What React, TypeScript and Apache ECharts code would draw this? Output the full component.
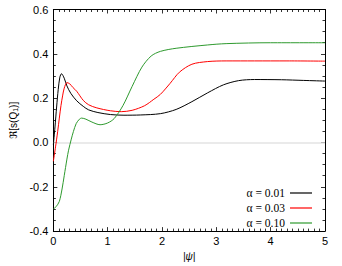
import React, { useEffect, useRef } from "react";
import * as echarts from "echarts";

const seriesNames = ["α = 0.01", "α = 0.03", "α = 0.10"];
const seriesColors = ["#000000", "#ff0000", "#2e9a2e"];

const blackX = [0, 0.03, 0.06, 0.09, 0.12, 0.15, 0.2, 0.25, 0.32, 0.43, 0.55, 0.65, 0.82, 1.05, 1.3, 1.6, 1.97, 2.26, 2.55, 2.84, 3.13, 3.41, 3.7, 4.2, 4.6, 5.0];
const blackY = [-0.01, 0.07, 0.16, 0.24, 0.295, 0.31, 0.29, 0.255, 0.222, 0.188, 0.163, 0.147, 0.135, 0.126, 0.123, 0.124, 0.13, 0.149, 0.184, 0.224, 0.26, 0.279, 0.284, 0.283, 0.28, 0.277];

const redX = [0, 0.04, 0.08, 0.11, 0.14, 0.17, 0.2, 0.25, 0.3, 0.36, 0.43, 0.55, 0.65, 0.8, 1.05, 1.25, 1.45, 1.68, 1.85, 1.97, 2.15, 2.32, 2.55, 2.84, 3.18, 3.7, 4.3, 5.0];
const redY = [-0.085, -0.02, 0.05, 0.11, 0.166, 0.21, 0.245, 0.27, 0.265, 0.248, 0.231, 0.19, 0.17, 0.156, 0.143, 0.139, 0.145, 0.166, 0.195, 0.217, 0.267, 0.317, 0.353, 0.365, 0.368, 0.368, 0.368, 0.367];

const greenX = [0, 0.05, 0.11, 0.16, 0.2, 0.25, 0.28, 0.33, 0.37, 0.42, 0.48, 0.52, 0.6, 0.71, 0.86, 1.0, 1.12, 1.28, 1.45, 1.63, 1.8, 1.97, 2.26, 2.84, 3.18, 4.0, 5.0];
const greenY = [-0.3, -0.29, -0.266, -0.21, -0.15, -0.075, -0.035, 0.015, 0.05, 0.085, 0.105, 0.11, 0.105, 0.092, 0.08, 0.088, 0.108, 0.166, 0.253, 0.34, 0.39, 0.411, 0.425, 0.44, 0.446, 0.45, 0.45];

const xTicks = { min: 0, max: 5, interval: 1 };
const yTicks = { min: -0.4, max: 0.6, interval: 0.2 };

const pairs = (xs: number[], ys: number[]) => xs.map((x, i) => [x, ys[i]]);

export default function App() {
  const ref = useRef<HTMLDivElement>(null);
  useEffect(() => {
    if (!ref.current) return;
    const chart = echarts.init(ref.current, null, { renderer: "svg" });
    const sans = "'Liberation Sans', Arial, 'DejaVu Sans', sans-serif";
    const axisCommon = {
      axisLine: { show: true, onZero: false, lineStyle: { color: "#000", width: 1 } },
      axisTick: { show: true, inside: true, length: 4, lineStyle: { color: "#000", width: 0.8 } },
      minorTick: { show: true, length: 2.5, lineStyle: { color: "#000", width: 0.8 } },
      splitLine: { show: false },
    };
    const datasets = [pairs(blackX, blackY), pairs(redX, redY), pairs(greenX, greenY)];
    chart.setOption({
      animation: false,
      backgroundColor: "#fff",
      grid: { left: 36, top: 9.5, width: 289, height: 231.5, containLabel: false },
      legend: {
        orient: "vertical",
        right: 25,
        bottom: 32,
        align: "right",
        icon: "rect",
        itemWidth: 22,
        itemHeight: 1.2,
        itemGap: 3,
        textStyle: { fontFamily: "'Liberation Serif', 'DejaVu Serif', serif", fontSize: 11.5, color: "#000" },
        data: seriesNames,
      },
      xAxis: [
        {
          type: "value",
          ...xTicks,
          ...axisCommon,
          minorTick: { ...axisCommon.minorTick, splitNumber: 10 },
          axisLabel: { color: "#000", fontFamily: sans, fontSize: 11, margin: 4 },
          name: "|ψ|",
          nameLocation: "middle",
          nameGap: 13,
          nameTextStyle: { color: "#000", fontFamily: sans, fontSize: 10, fontStyle: "italic" },
        },
        {
          type: "value",
          position: "top",
          ...xTicks,
          ...axisCommon,
          minorTick: { ...axisCommon.minorTick, splitNumber: 10 },
          axisLabel: { show: false },
        },
      ],
      yAxis: [
        {
          type: "value",
          ...yTicks,
          ...axisCommon,
          minorTick: { ...axisCommon.minorTick, splitNumber: 4 },
          axisLabel: { color: "#000", fontFamily: sans, fontSize: 11, margin: 5, formatter: (v: number) => v.toFixed(1) },
          name: "ℜ[s(Q{sub|1})]",
          nameLocation: "middle",
          nameGap: 24,
          nameRotate: 90,
          nameTextStyle: {
            color: "#000",
            fontFamily: sans,
            fontSize: 10,
            rich: { sub: { fontSize: 7, verticalAlign: "bottom", padding: [4, 0, 0, 0], fontFamily: sans, color: "#000" } },
          },
        },
        {
          type: "value",
          position: "right",
          ...yTicks,
          ...axisCommon,
          minorTick: { ...axisCommon.minorTick, splitNumber: 4 },
          axisLabel: { show: false },
        },
      ],
      series: datasets.map((d, i) => ({
        name: seriesNames[i],
        type: "line",
        data: d,
        xAxisIndex: 0,
        yAxisIndex: 0,
        showSymbol: false,
        symbol: "none",
        smooth: 0.3,
        lineStyle: { color: seriesColors[i], width: 1 },
        itemStyle: { color: seriesColors[i] },
        z: 3,
        markLine:
          i === 0
            ? {
                silent: true,
                symbol: "none",
                label: { show: false },
                lineStyle: { color: "#e3e3e3", width: 1.5, type: "solid" },
                data: [{ yAxis: 0 }],
                z: 1,
              }
            : undefined,
      })),
    });
    return () => chart.dispose();
  }, []);
  return <div ref={ref} style={{ position: "absolute", left: 0, top: 0, width: 342, height: 266 }} />;
}
